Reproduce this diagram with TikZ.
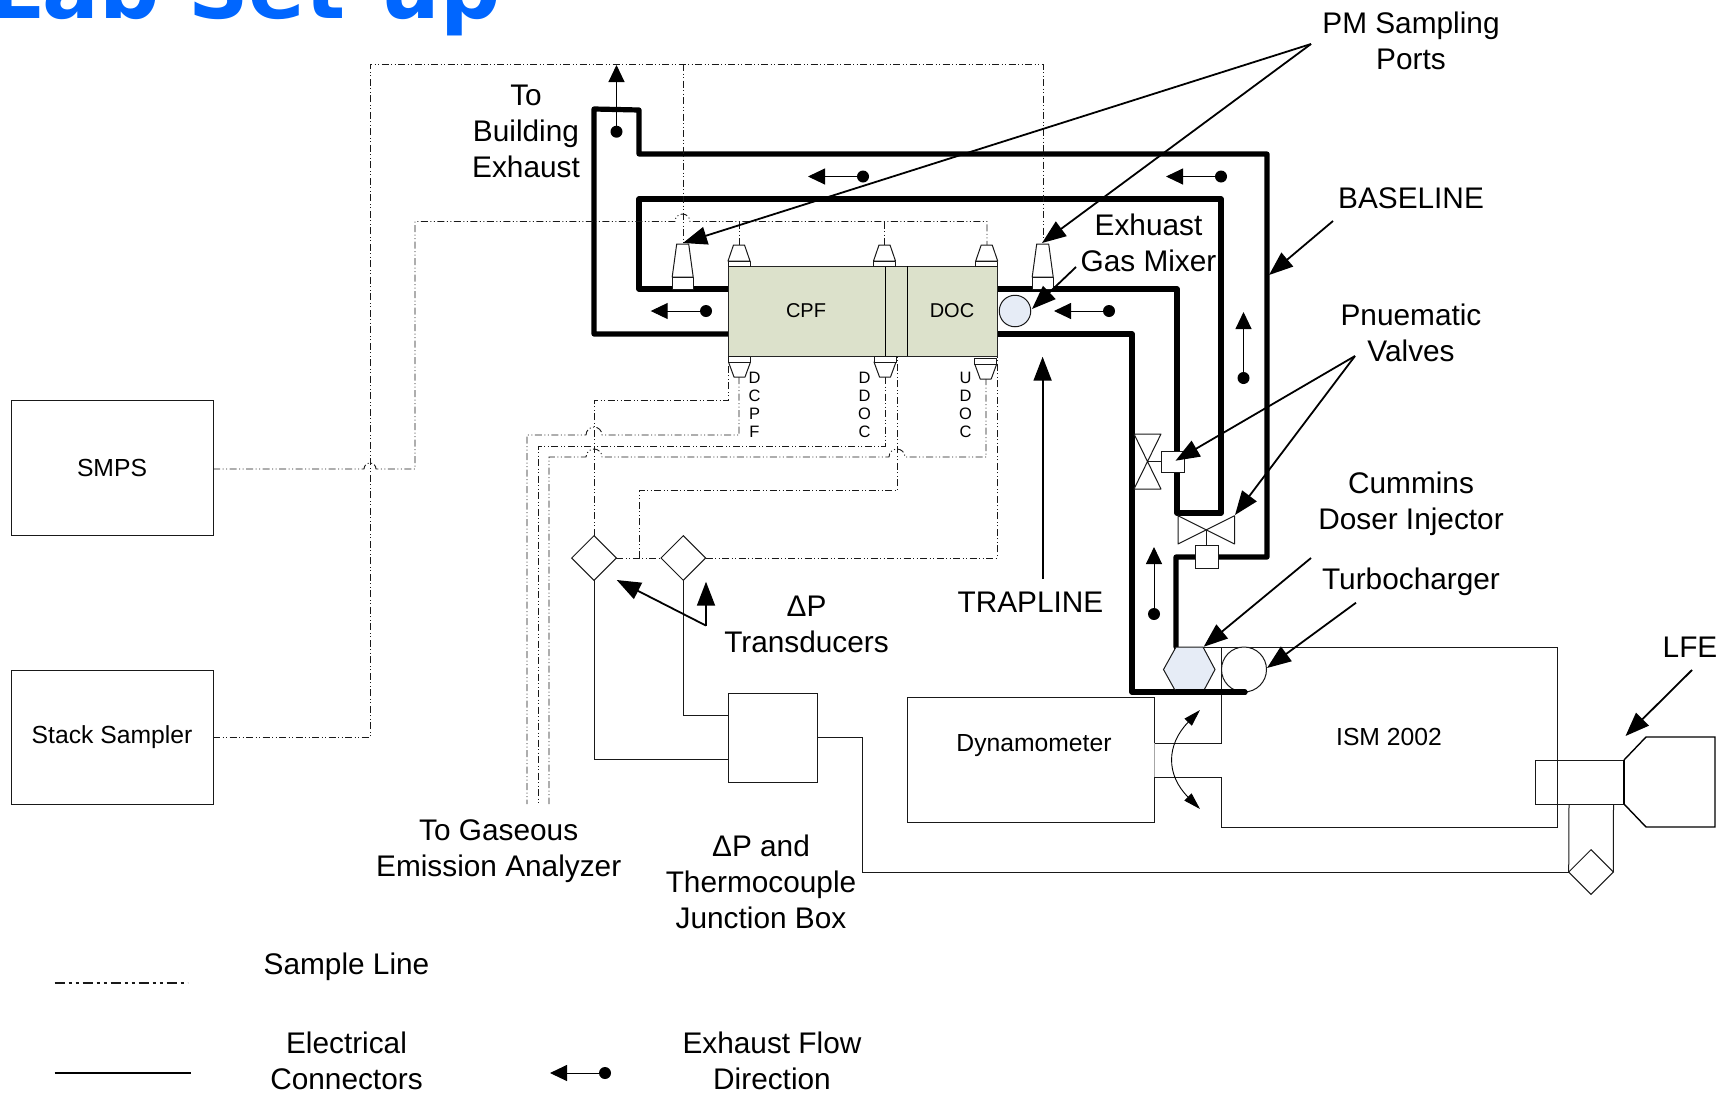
\documentclass[tikz,border=0pt]{standalone}
\usepackage{fontspec}
\setmainfont{Liberation Sans}
\newfontfamily\titlefont{DejaVu Sans}
\usetikzlibrary{arrows.meta,calc,shapes.geometric}
\definecolor{catgreen}{HTML}{DCE1CB}
\definecolor{paleblue}{HTML}{E6ECF6}
\definecolor{titleblue}{HTML}{0066FF}
\tikzset{
  pipe/.style={line width=5.2pt,line cap=round,line join=round},
  thinline/.style={line width=1pt,draw=black!90},
  sampleline/.style={line width=0.9pt,draw=black!90,dash pattern=on 7pt off 2.5pt on 1pt off 2.5pt on 1pt off 2.5pt},
  boxnode/.style={draw=black!90,line width=1pt,fill=white,inner sep=0pt,outer sep=0pt,font=\fontsize{24.7}{30}\selectfont},
  diamondnode/.style={diamond,aspect=1,draw=black!90,line width=1pt,fill=white,inner sep=0pt,outer sep=0pt,minimum size=44.6pt},
  label/.style={align=center,inner sep=0pt,font=\fontsize{29.8}{36}\selectfont},
  small/.style={align=center,inner sep=0pt,font=\fontsize{16.5}{18}\selectfont},
  catlabel/.style={inner sep=0pt,font=\fontsize{20}{24}\selectfont},
  flowdot/.style={circle,fill=black,inner sep=0pt,outer sep=0pt,minimum size=12pt},
  flowarrow/.style={line width=1pt,-{Stealth[length=17pt,width=16pt,inset=0pt]}},
  pointer/.style={line width=1.8pt,-{Stealth[length=24pt,width=18pt,inset=0pt]}},
  probe/.style={draw=black!90,line width=1pt,fill=white,line join=round},
}
\newcommand{\flowarr}[5]{%
  \node[flowdot] (#1) at (#2,#3) {};
  \coordinate (#1tip) at (#4,#5);
  \draw[flowarrow] (#1) -- (#1tip);}
\newcommand{\sensortop}[1]{% small probe, top of the catalyst
  \filldraw[probe] (#1-5.5,245) -- (#1+5.5,245) -- (#1+11,261) -- (#1-11,261) -- cycle;
  \filldraw[probe] (#1-11,261) rectangle (#1+11,266);}
\newcommand{\sensorbot}[2]{% small probe, bottom of the catalyst
  \filldraw[probe] (#1-5.5,#2+21) -- (#1+5.5,#2+21) -- (#1+11,#2+6) -- (#1-11,#2+6) -- cycle;
  \filldraw[probe] (#1-11,#2) rectangle (#1+11,#2+6);}
\newcommand{\pmprobe}[1]{% PM sampling port
  \filldraw[probe] (#1-6,244) -- (#1+6,244) -- (#1+10.5,277) -- (#1-10.5,277) -- cycle;
  \filldraw[probe] (#1-10.5,277) rectangle (#1+10.5,289);}
\begin{document}
\begin{tikzpicture}[x=1pt,y=-1pt]
\useasboundingbox (0,0) rectangle (1730,1093);
\clip (0,0) rectangle (1730,1093);

% title, cut by the top edge
\node[anchor=base east,inner sep=0pt,text=titleblue,font=\titlefont\bfseries\fontsize{84}{90}\selectfont] (title) at (501,18.5) {Lab Set-up};

% exhaust pipes
\draw[pipe] (728,334) -- (594,334) -- (594,109) -- (639,110) -- (639,154) -- (1267,154) -- (1267,557) -- (1176,557) -- (1176,647);
\draw[pipe] (728,289) -- (639,289) -- (639,199) -- (1221,199) -- (1221,513) -- (1177,513) -- (1177,289) -- (997,289);
\draw[pipe] (997,334) -- (1132,334) -- (1132,692) -- (1245,692);

% boxes and transducers
\node[boxnode,minimum width=202pt,minimum height=135.5pt] (smps) at (112,468.2) {\raisebox{1pt}{SMPS}};
\node[boxnode,minimum width=202pt,minimum height=134pt] (stack) at (112,737) {\raisebox{-2pt}{Stack Sampler}};
\node[diamondnode] (d1) at (594,558) {};
\node[diamondnode] (d2) at (683.3,558) {};
\node[diamondnode] (d3) at (1591,872) {};

% sample lines
\draw[sampleline] (smps.east |- 0,469) -- (364,469) arc[start angle=180,end angle=0,radius=6pt] -- (415,469) -- (415,221.5) -- (675,221.5) arc[start angle=180,end angle=0,radius=7.5pt] -- (987,221.5) -- (987,245);
\draw[sampleline] (739,221.5) -- (739,245);
\draw[sampleline] (884,221.5) -- (884,245);
\draw[sampleline] (stack.east |- 0,737) -- (370,737) -- (370,64) -- (1043,64) -- (1043,244);
\draw[sampleline] (683,64) -- (683,244);
\draw[sampleline] (d1.north) -- (594,400.7) -- (728,400.7) -- (728,356);
\draw[sampleline] (739,377) -- (739,435) -- (602,435) arc[start angle=0,end angle=180,radius=8pt] -- (527,435) -- (527,804);
\draw[sampleline] (885,377) -- (885,446) -- (538,446) -- (538,804);
\draw[sampleline] (986,378) -- (986,457) -- (905,457) arc[start angle=0,end angle=180,radius=8pt] -- (602,457) arc[start angle=0,end angle=180,radius=8pt] -- (549,457) -- (549,804);
\draw[sampleline] (d1.east) -- (d2.west);
\draw[sampleline] (639,558) -- (639,490.7) -- (897,490.7) -- (897,356);
\draw[sampleline] (d2.east) -- (997,558) -- (997,356);

% catalyst assembly
\node[draw=black!85,line width=1pt,fill=catgreen,minimum width=269pt,minimum height=90pt,inner sep=0pt,outer sep=0pt] (cat) at (862.5,311) {};
\draw[line width=1pt] (885,266) -- (885,356);
\draw[line width=1pt] (907,266) -- (907,356);
\node[catlabel] (cpf) at (806,311) {CPF};
\node[catlabel] (doc) at (952,311) {DOC};

\sensortop{739}
\sensortop{884.5}
\sensortop{986.7}
\sensorbot{739.5}{356}
\sensorbot{885}{356}
\sensorbot{985.7}{358}
\pmprobe{682.7}
\pmprobe{1042.7}

\node[small] (tdcpf) at (754.5,404.5) {D\\C\\P\\F};
\node[small] (tddoc) at (864.5,404.5) {D\\D\\O\\C};
\node[small] (tudoc) at (965.5,404.5) {U\\D\\O\\C};

% gas mixer
\node[circle,draw=black!90,line width=1pt,fill=paleblue,minimum size=31.5pt,inner sep=0pt] (mixer) at (1015,311) {};

% engine outline
\draw[thinline] (1154,743) -- (1221,743) -- (1221,647);
\draw[thinline] (1176,647) -- (1557,647) -- (1557,827) -- (1221,827) -- (1221,777) -- (1154,777);
\draw[thinline] (1154,743) -- (1154,697) -- (907,697) -- (907,822) -- (1154,822) -- (1154,777);
\draw[line width=0.8pt,draw=black!35] (1154,743) -- (1154,777);
\node[inner sep=0pt,font=\fontsize{24.7}{30}\selectfont] (dyno) at (1034,746) {Dynamometer};
\node[inner sep=0pt,font=\fontsize{24.7}{30}\selectfont] (ism) at (1389,736.5) {ISM 2002};

% turbocharger
\filldraw[draw=black!90,line width=1pt,fill=paleblue] (1176,647) -- (1203,647) -- (1215,669.5) -- (1203,692) -- (1176,692) -- (1163.5,669.5) -- cycle;
\node[circle,draw=black!90,line width=1pt,fill=white,minimum size=45pt,inner sep=0pt] (turbo) at (1244,669.5) {};
\draw[pipe] (1176,692) -- (1245,692);

% valves
\draw[thinline] (1148,461.7) -- (1164,461.7);
\filldraw[probe] (1134,434) -- (1161,434) -- (1134,489) -- (1161,489) -- cycle;
\node[draw=black!90,line width=1pt,fill=white,minimum width=22.5pt,minimum height=21pt,inner sep=0pt] (v1box) at (1173.2,461.5) {};
\draw[thinline] (1206,530) -- (1206,546);
\filldraw[probe] (1178,515.7) -- (1234.6,544) -- (1234.6,515.7) -- (1178,544) -- cycle;
\node[draw=black!90,line width=1pt,fill=white,minimum width=23pt,minimum height=23pt,inner sep=0pt] (v2box) at (1206.5,556.5) {};

% junction box and electrical connectors
\node[boxnode,minimum width=89.5pt,minimum height=89.5pt] (jbox) at (772.8,737.8) {};
\draw[thinline] (d1.south) -- (594,759) -- (jbox.west |- 0,759);
\draw[thinline] (d2.south) -- (683.3,715) -- (jbox.west |- 0,715);
\draw[thinline] (jbox.east |- 0,737) -- (862,737) -- (862,872) -- (d3.west);

% laminar flow element
\draw[thinline] (1569,804) -- (d3.west);
\draw[thinline] (1613.5,804) -- (d3.east);
\draw[thinline] (1535,760) rectangle (1624,804);
\draw[line width=1.4pt] (1624,760) -- (1646,737) -- (1715,737) -- (1715,827) -- (1646,827) -- (1624,804);
\draw[line width=1.4pt] (1624,760) -- (1624,804);

% flow direction
\flowarr{fa}{616.5}{131.7}{616.5}{65}
\flowarr{fb}{863}{176.5}{808}{176.5}
\flowarr{fc}{1221}{176.5}{1166}{176.5}
\flowarr{fd}{1243.5}{378}{1243.5}{312}
\flowarr{fe}{706}{311}{650.7}{311}
\flowarr{ff}{1109}{311}{1054}{311}
\flowarr{fg}{1154}{614}{1154}{547}
\flowarr{fh}{605}{1073}{550}{1073}

% rotation arrow
\coordinate (rota) at (1200,710);
\coordinate (rotb) at (1200,809);
\draw[line width=0.9pt,{Stealth[length=17pt,width=10pt,inset=0pt]}-{Stealth[length=17pt,width=10pt,inset=0pt]}] (rota) .. controls (1166,745) and (1166,775) .. (rotb);

% labels
\node[label] (lpm) at (1411,41) {PM Sampling\\Ports};
\node[label] (lexh) at (526,131) {To\\Building\\Exhaust};
\node[label] (lbase) at (1411,198) {BASELINE};
\node[label] (lmix) at (1148.5,243) {Exhuast\\Gas Mixer};
\node[label] (lvalve) at (1411,333) {Pnuematic\\Valves};
\node[label] (ldoser) at (1411,503.5) {Cummins\\Doser Injector};
\node[label] (lturbo) at (1411,582) {Turbocharger};
\node[label] (llfe) at (1690,647.6) {LFE};
\node[label] (ldp) at (806.5,624) {Δ{}P\\Transducers};
\node[label] (ltrap) at (1030.5,602) {TRAPLINE};
\node[label] (lgas) at (498.7,851) {To Gaseous\\Emission Analyzer};
\node[label] (ljb) at (761,882) {Δ{}P and\\Thermocouple\\Junction Box};
\node[label] (lsample) at (346.5,967) {Sample Line};
\node[label] (lelec) at (346.5,1061) {Electrical\\Connectors};
\node[label] (lflow) at (772,1061) {Exhaust Flow\\Direction};

% pointers
\coordinate (ppm) at (1311,44);
\coordinate (ppma) at (683,243);
\coordinate (ppmb) at (1042,243);
\draw[pointer] (ppm) -- (ppma);
\draw[pointer] (ppm) -- (ppmb);
\coordinate (pbase) at (1333,221);
\coordinate (pbaset) at (1269,275);
\draw[pointer] (pbase) -- (pbaset);
\coordinate (pmix) at (1076,267);
\coordinate (pmixt) at (1032,309);
\draw[pointer] (pmix) -- (pmixt);
\coordinate (pval) at (1355,356);
\coordinate (pvala) at (1175.5,460.7);
\coordinate (pvalb) at (1235,515);
\draw[pointer] (pval) -- (pvala);
\draw[pointer] (pval) -- (pvalb);
\coordinate (pdos) at (1311,558);
\coordinate (pdost) at (1203.7,646.7);
\draw[pointer] (pdos) -- (pdost);
\coordinate (ptur) at (1356,602.7);
\coordinate (ptult) at (1267,668);
\draw[pointer] (ptur) -- (ptult);
\coordinate (plfe) at (1692,670);
\coordinate (plfet) at (1625.5,736);
\draw[pointer] (plfe) -- (plfet);
\coordinate (pdp) at (706,625.6);
\coordinate (pdpa) at (616.7,580);
\coordinate (pdpb) at (706,581.7);
\draw[pointer] (pdp) -- (pdpa);
\draw[pointer] (pdp) -- (pdpb);
\coordinate (ptrap) at (1042.6,579);
\coordinate (ptrapt) at (1042.6,356.7);
\draw[pointer] (ptrap) -- (ptrapt);

% legend
\coordinate (lga) at (54.5,983);
\coordinate (lgb) at (187.5,983);
\draw[sampleline,line width=1.4pt,dash pattern=on 10pt off 4pt on 3pt off 4pt on 3pt off 4pt] (lga) -- (lgb);
\coordinate (lgc) at (54.5,1073);
\coordinate (lgd) at (191,1073);
\draw[line width=1.3pt] (lgc) -- (lgd);
\end{tikzpicture}
\end{document}
